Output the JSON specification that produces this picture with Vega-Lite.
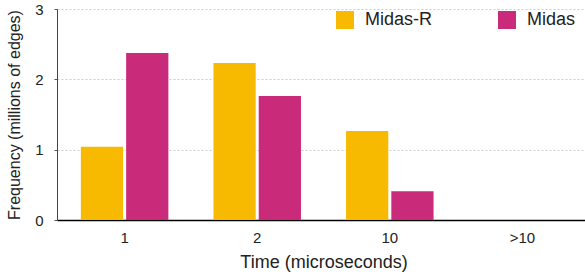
{
  "$schema": "https://vega.github.io/schema/vega-lite/v6.json",
  "autosize": {"type": "none"},
  "padding": {"left": 57, "top": 9, "right": 0, "bottom": 58},
  "width": 533,
  "height": 211,
  "config": {
    "font": "Liberation Sans",
    "view": {"stroke": null},
    "axis": {"labelColor": "#222222", "titleColor": "#222222", "titleFontWeight": "normal"}
  },
  "data": {
    "values": [
      {"time": "1", "method": "Midas-R", "freq": 1.04},
      {"time": "1", "method": "Midas", "freq": 2.375},
      {"time": "2", "method": "Midas-R", "freq": 2.233},
      {"time": "2", "method": "Midas", "freq": 1.764},
      {"time": "10", "method": "Midas-R", "freq": 1.266},
      {"time": "10", "method": "Midas", "freq": 0.41},
      {"time": ">10", "method": "Midas-R", "freq": 0},
      {"time": ">10", "method": "Midas", "freq": 0}
    ]
  },
  "mark": {"type": "bar"},
  "encoding": {
    "x": {
      "field": "time",
      "type": "nominal",
      "sort": ["1", "2", "10", ">10"],
      "scale": {"paddingInner": 0.34, "paddingOuter": 0.18},
      "axis": {
        "title": "Time (microseconds)",
        "labelAngle": 0,
        "labelFontSize": 15,
        "labelPadding": 10,
        "ticks": false,
        "domainColor": "#000000",
        "domainWidth": 1.5,
        "titleFontSize": 18,
        "titlePadding": 8,
        "grid": false
      }
    },
    "xOffset": {
      "field": "method",
      "type": "nominal",
      "sort": ["Midas-R", "Midas"],
      "scale": {"paddingInner": 0.067, "paddingOuter": 0}
    },
    "y": {
      "field": "freq",
      "type": "quantitative",
      "scale": {"domain": [0, 3], "nice": false},
      "axis": {
        "title": "Frequency (millions of edges)",
        "values": [0, 1, 2, 3],
        "labelFontSize": 15,
        "labelPadding": 11,
        "tickSize": 3,
        "tickColor": "#555555",
        "domainColor": "#444444",
        "grid": true,
        "gridColor": "#cccccc",
        "gridDash": [2, 2],
        "titleFontSize": 16,
        "titlePadding": 12
      }
    },
    "color": {
      "field": "method",
      "type": "nominal",
      "sort": ["Midas-R", "Midas"],
      "scale": {"domain": ["Midas-R", "Midas"], "range": ["#F8BA00", "#CA2A7A"]},
      "legend": {
        "title": null,
        "orient": "none",
        "legendX": 279,
        "legendY": 2,
        "direction": "horizontal",
        "padding": 0,
        "symbolType": "square",
        "symbolSize": 324,
        "symbolStrokeWidth": 0,
        "symbolOpacity": 1,
        "labelFontSize": 18,
        "labelColor": "#222222",
        "labelOffset": 11,
        "columnPadding": 65
      }
    }
  }
}
